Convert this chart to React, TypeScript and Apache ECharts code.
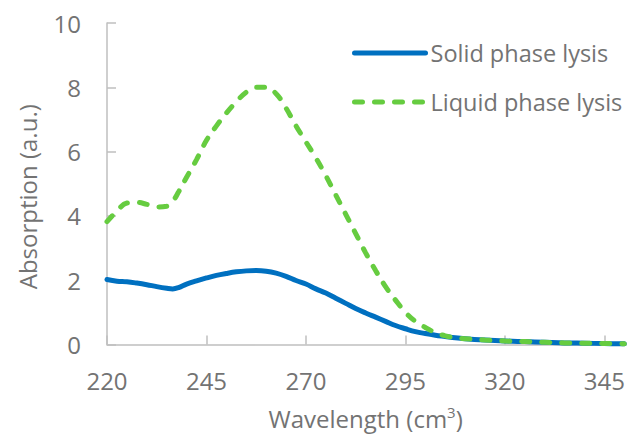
import React, { useEffect, useRef } from "react";
import * as echarts from "echarts";

const wavelengths = [
  220, 222.5, 225, 227.5, 230, 232.5, 235, 236.5, 238, 240, 242.5, 245, 247.5,
  250, 252.5, 255, 257.5, 260, 262.5, 265, 267.5, 270, 272.5, 275, 277.5, 280,
  282.5, 285, 287.5, 290, 292.5, 295, 297.5, 300, 302.5, 305, 307.5, 310, 315,
  320, 325, 330, 335, 340, 345, 350,
];

const solidValues = [
  2.02, 1.97, 1.95, 1.91, 1.86, 1.8, 1.75, 1.73, 1.77, 1.88, 1.98, 2.07, 2.15,
  2.21, 2.26, 2.29, 2.3, 2.28, 2.22, 2.12, 1.99, 1.88, 1.73, 1.6, 1.44, 1.28,
  1.12, 0.98, 0.85, 0.72, 0.59, 0.49, 0.4, 0.34, 0.29, 0.25, 0.21, 0.18, 0.14,
  0.11, 0.09, 0.07, 0.05, 0.04, 0.03, 0.02,
];

const liquidValues = [
  3.82, 4.15, 4.4, 4.42, 4.36, 4.28, 4.3, 4.45, 4.75, 5.2, 5.75, 6.35, 6.8,
  7.2, 7.55, 7.85, 8.0, 8.0, 7.8, 7.35, 6.8, 6.3, 5.8, 5.25, 4.65, 4.05, 3.45,
  2.85, 2.3, 1.8, 1.38, 1.0, 0.72, 0.53, 0.37, 0.27, 0.21, 0.18, 0.14, 0.11,
  0.09, 0.07, 0.05, 0.04, 0.03, 0.02,
];

const seriesNames = ["Solid phase lysis", "Liquid phase lysis"];
const xTitle = "Wavelength (cm{sup|3})";
const yTitle = "Absorption (a.u.)";

const FONT = "'Open Sans', sans-serif";
const TEXT = "#737373";
const AXIS = "#bfbfbf";

export default function App() {
  const ref = useRef<HTMLDivElement>(null);

  useEffect(() => {
    if (!ref.current) return;
    document.body.style.margin = "0";
    const chart = echarts.init(ref.current, undefined, { renderer: "svg" });
    const pair = (vals: number[]) => wavelengths.map((x, i) => [x, vals[i]]);
    chart.setOption({
      animation: false,
      backgroundColor: "#ffffff",
      textStyle: { fontFamily: FONT },
      grid: { left: 107, right: 0, top: 23, bottom: 85, containLabel: false },
      legend: {
        orient: "vertical",
        left: 352,
        top: 41,
        padding: 0,
        itemWidth: 71,
        itemHeight: 14,
        itemGap: 25,
        itemStyle: { opacity: 0 },
        lineStyle: { width: 5, cap: "round" },
        textStyle: { fontFamily: FONT, fontSize: 23.5, color: TEXT },
        data: seriesNames,
      },
      xAxis: {
        type: "value",
        min: 220,
        max: 350,
        interval: 25,
        name: xTitle,
        nameLocation: "middle",
        nameGap: 60,
        nameTextStyle: {
          fontFamily: FONT,
          fontSize: 24,
          color: TEXT,
          rich: {
            sup: { fontFamily: FONT, fontSize: 15, color: TEXT, verticalAlign: "top", padding: [0, 0, 12, 0] },
          },
        },
        axisLine: { show: true, lineStyle: { color: AXIS, width: 1.5 } },
        axisTick: { show: true, inside: true, length: 9, lineStyle: { color: AXIS, width: 1.5 } },
        axisLabel: { fontFamily: FONT, fontSize: 24, color: TEXT, margin: 24, showMaxLabel: false },
        splitLine: { show: false },
      },
      yAxis: {
        type: "value",
        min: 0,
        max: 10,
        interval: 2,
        name: yTitle,
        nameLocation: "middle",
        nameGap: 68,
        nameTextStyle: { fontFamily: FONT, fontSize: 24, color: TEXT, padding: [0, 26, 0, 0] },
        axisLine: { show: true, lineStyle: { color: AXIS, width: 1.5 } },
        axisTick: { show: true, inside: true, length: 9, lineStyle: { color: AXIS, width: 1.5 } },
        axisLabel: { fontFamily: FONT, fontSize: 24, color: TEXT, margin: 26 },
        splitLine: { show: false },
      },
      series: [
        {
          name: seriesNames[0],
          type: "line",
          data: pair(solidValues),
          smooth: 0.4,
          symbol: "none",
          z: 2,
          lineStyle: { color: "#0070c0", width: 5, cap: "round" },
          itemStyle: { color: "#0070c0" },
        },
        {
          name: seriesNames[1],
          type: "line",
          data: pair(liquidValues),
          smooth: 0.4,
          symbol: "none",
          z: 3,
          lineStyle: { color: "#66cc40", width: 5, type: [8, 12], cap: "round" },
          itemStyle: { color: "#66cc40" },
        },
      ],
    });
    return () => chart.dispose();
  }, []);

  return <div ref={ref} style={{ width: 628, height: 435 }} />;
}
